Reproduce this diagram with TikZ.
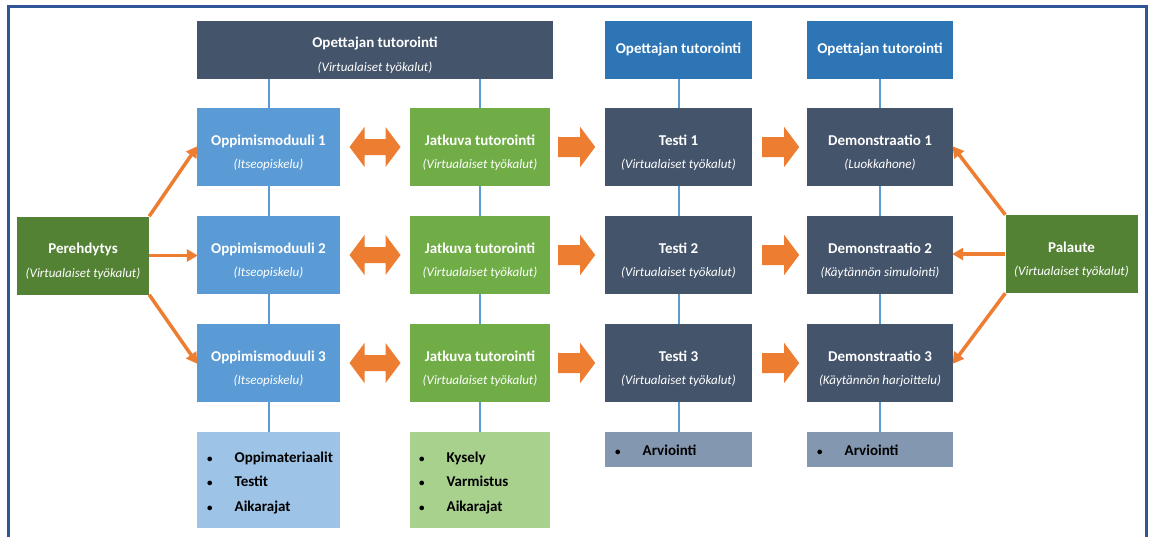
\documentclass[tikz,border=0pt]{standalone}
\usepackage{fontspec}
\setmainfont{Carlito}
\usetikzlibrary{arrows.meta,calc}
\definecolor{navy}{HTML}{44546A}
\definecolor{midblue}{HTML}{5B9BD5}
\definecolor{topblue}{HTML}{2E75B6}
\definecolor{leaf}{HTML}{70AD47}
\definecolor{moss}{HTML}{548235}
\definecolor{paleblue}{HTML}{9DC3E6}
\definecolor{palegreen}{HTML}{A9D18E}
\definecolor{slate}{HTML}{8497B0}
\definecolor{tang}{HTML}{ED7D31}
\definecolor{framec}{HTML}{2F5597}
% raises the first line so a two-line label sits a little low in its box
\newcommand\boxtop{\rule{0pt}{22pt}}
\newcommand\boxsub[1]{{\fontsize{13}{23}\selectfont\mdseries\itshape #1}}
% small list bullet
\newcommand\lbul{{\fontsize{11}{11}\selectfont •}}
\begin{document}
\begin{tikzpicture}[x=1pt,y=-1pt,
  box/.style={rectangle, inner sep=0pt, minimum height=78pt, text=white, align=center,
    font=\fontsize{15}{23.5}\selectfont\bfseries},
  colA/.style={box, fill=midblue, minimum width=143pt},
  colB/.style={box, fill=leaf, minimum width=140pt},
  colC/.style={box, fill=navy, minimum width=147pt},
  colD/.style={box, fill=navy, minimum width=146pt},
  side/.style={box, fill=moss, minimum width=132pt},
  listbox/.style={rectangle, inner sep=0pt},
  listtext/.style={anchor=west, inner sep=0pt, text=black, align=left,
    font=\fontsize{15}{24.5}\selectfont\bfseries},
  vlink/.style={draw=midblue, line width=2pt},
  thin/.style={draw=tang, line width=3.5pt, -{Triangle[length=11pt,width=12pt]}, shorten >=-1pt},
  pics/fatright/.style={code={\fill[tang] (0,-10) -- (22,-10) -- (22,-20) -- (37,0) -- (22,20) -- (22,10) -- (0,10) -- cycle;}},
  pics/fatboth/.style={code={\fill[tang] (-25.5,0) -- (-10.5,-20) -- (-10.5,-8) -- (10.5,-8) -- (10.5,-20) -- (25.5,0) -- (10.5,20) -- (10.5,8) -- (-10.5,8) -- (-10.5,20) -- cycle;}}
]
\useasboundingbox (0,0) rectangle (1150,536);
\fill[white] (0,0) rectangle (1150,536);
% outer frame, open at the bottom
\draw[framec, line width=3pt] (8,545) -- (8,6) -- (1146,6) -- (1146,545);

% header boxes
\node[box, fill=navy, minimum width=356pt, minimum height=58pt] (top) at (375,49.5)
  {\boxtop Opettajan tutorointi\\\boxsub{(Virtualaiset työkalut)}};
\node[box, fill=topblue, minimum width=147pt, minimum height=58pt] (topC) at (678.5,49.5) {Opettajan tutorointi};
\node[box, fill=topblue, minimum width=146pt, minimum height=58pt] (topD) at (880,49.5) {Opettajan tutorointi};

% learning modules
\node[colA] (opp1) at (268.5,147) {\boxtop Oppimismoduuli 1\\\boxsub{(Itseopiskelu)}};
\node[colA] (opp2) at (268.5,255) {\boxtop Oppimismoduuli 2\\\boxsub{(Itseopiskelu)}};
\node[colA] (opp3) at (268.5,363) {\boxtop Oppimismoduuli 3\\\boxsub{(Itseopiskelu)}};

% continuous tutoring
\node[colB] (jat1) at (480,147) {\boxtop Jatkuva tutorointi\\\boxsub{(Virtualaiset työkalut)}};
\node[colB] (jat2) at (480,255) {\boxtop Jatkuva tutorointi\\\boxsub{(Virtualaiset työkalut)}};
\node[colB] (jat3) at (480,363) {\boxtop Jatkuva tutorointi\\\boxsub{(Virtualaiset työkalut)}};

% tests
\node[colC] (tes1) at (678.5,147) {\boxtop Testi 1\\\boxsub{(Virtualaiset työkalut)}};
\node[colC] (tes2) at (678.5,255) {\boxtop Testi 2\\\boxsub{(Virtualaiset työkalut)}};
\node[colC] (tes3) at (678.5,363) {\boxtop Testi 3\\\boxsub{(Virtualaiset työkalut)}};

% demonstrations
\node[colD] (dem1) at (880,147) {\boxtop Demonstraatio 1\\\boxsub{(Luokkahone)}};
\node[colD] (dem2) at (880,255) {\boxtop Demonstraatio 2\\\boxsub{(Käytännön simulointi)}};
\node[colD] (dem3) at (880,363) {\boxtop Demonstraatio 3\\\boxsub{(Käytännön harjoittelu)}};

% side boxes
\node[side] (pere) at (83,255.5) {\boxtop Perehdytys\\\boxsub{(Virtualaiset työkalut)}};
\node[side] (pal) at (1071.5,254) {\boxtop Palaute\\\boxsub{(Virtualaiset työkalut)}};

% bottom lists
\node[listbox, fill=paleblue, minimum width=143pt, minimum height=96pt] (lstA) at (268.5,480) {};
\node[listbox, fill=palegreen, minimum width=140pt, minimum height=96pt] (lstB) at (480,480) {};
\node[listbox, fill=slate, minimum width=147pt, minimum height=35pt] (lstC) at (678.5,449.5) {};
\node[listbox, fill=slate, minimum width=146pt, minimum height=35pt] (lstD) at (880,449.5) {};
\node[listtext] (txtA) at (207,482)
  {\begin{tabular}{@{}l@{\hspace{22pt}}l@{}}\lbul&Oppimateriaalit\\\lbul&Testit\\\lbul&Aikarajat\end{tabular}};
\node[listtext] (txtB) at (419,482)
  {\begin{tabular}{@{}l@{\hspace{22pt}}l@{}}\lbul&Kysely\\\lbul&Varmistus\\\lbul&Aikarajat\end{tabular}};
\node[listtext] (txtC) at (615,451)
  {\begin{tabular}{@{}l@{\hspace{22pt}}l@{}}\lbul&Arviointi\end{tabular}};
\node[listtext] (txtD) at (817,451)
  {\begin{tabular}{@{}l@{\hspace{22pt}}l@{}}\lbul&Arviointi\end{tabular}};

% vertical links
\draw[vlink] (opp1.north |- top.south) -- (opp1.north);
\draw[vlink] (jat1.north |- top.south) -- (jat1.north);
\draw[vlink] (topC.south) -- (tes1.north);
\draw[vlink] (topD.south) -- (dem1.north);
\foreach \c in {opp,jat,tes,dem}{
  \draw[vlink] (\c1.south) -- (\c2.north);
  \draw[vlink] (\c2.south) -- (\c3.north);
}
\draw[vlink] (opp3.south) -- (lstA.north);
\draw[vlink] (jat3.south) -- (lstB.north);
\draw[vlink] (tes3.south) -- (lstC.north);
\draw[vlink] (dem3.south) -- (lstD.north);

% thin arrows from the side boxes
\draw[thin] (pere.north east) -- (opp1.west);
\draw[thin] (pere.east) -- (opp2.west |- pere.east);
\draw[thin] (pere.south east) -- (opp3.west);
\draw[thin] (pal.north west) -- (dem1.east);
\draw[thin] (pal.west) -- (dem2.east |- pal.west);
\draw[thin] (pal.south west) -- (dem3.east);

% broad arrows between columns
\foreach \r in {1,2,3}{
  \pic at ($(opp\r.east)!0.5!(jat\r.west)$) {fatboth};
  \pic at ($(jat\r.east)+(8,0)$) {fatright};
  \pic at ($(tes\r.east)+(10,0)$) {fatright};
}
\end{tikzpicture}
\end{document}
